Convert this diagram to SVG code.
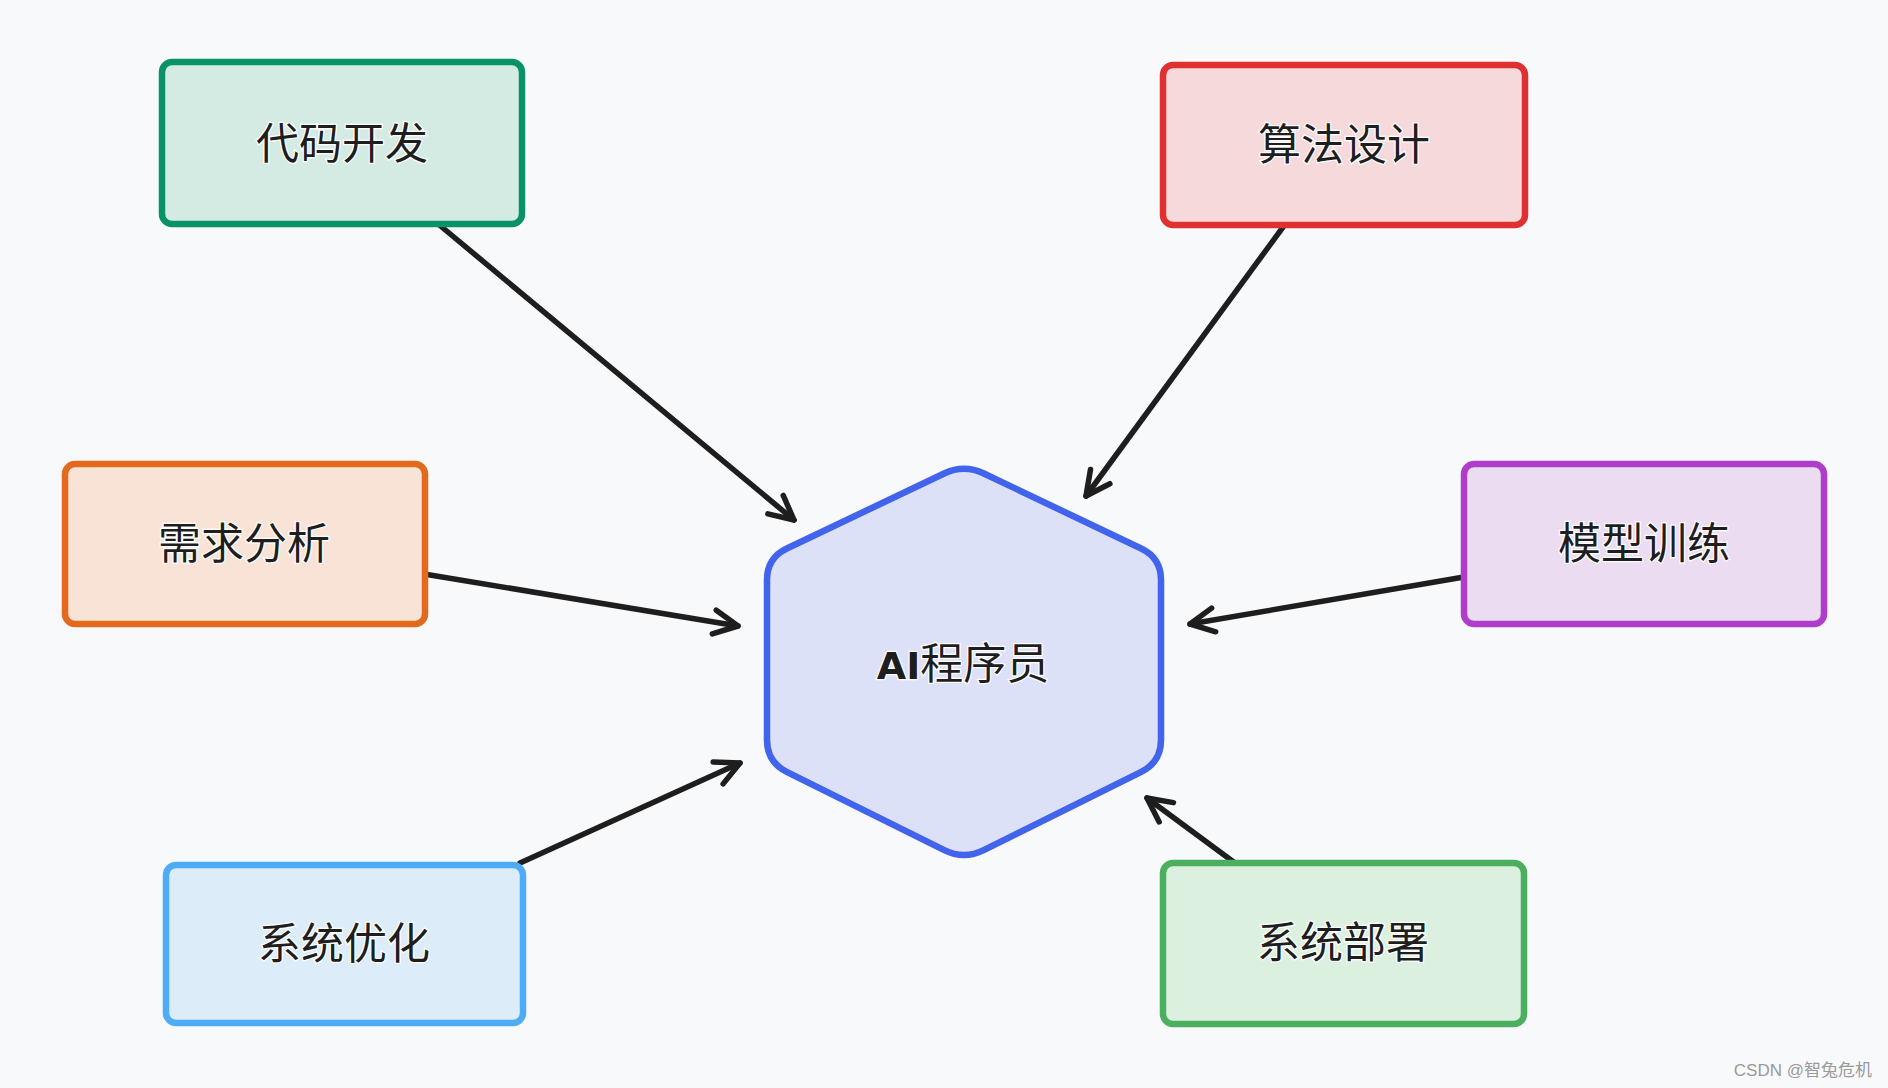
<svg xmlns="http://www.w3.org/2000/svg" width="1888" height="1088" viewBox="0 0 1888 1088">
<style>
.box{stroke-width:6.5;stroke-linejoin:round}
.lbl{font-family:"Noto Sans CJK SC","Noto Sans",sans-serif;font-size:43px;fill:#1e1e1e;text-anchor:middle;stroke:#ffffff;stroke-width:2.5;paint-order:stroke}
.edge{stroke:#1e1e1e;stroke-width:5.5;fill:none;stroke-linecap:round}
</style>
<defs>
<marker id="arr" markerUnits="userSpaceOnUse" markerWidth="40" markerHeight="40" viewBox="-30 -20 40 40" refX="0" refY="0" orient="auto">
<path d="M -24,-12 L 0,0 L -24,12" fill="none" stroke="#1e1e1e" stroke-width="5.5" stroke-linecap="round" stroke-linejoin="round"/>
</marker>
</defs>
<rect width="1888" height="1088" fill="#f8f9fb"/>
<g id="connectors">
<line class="edge" x1="437" y1="223" x2="794" y2="520" marker-end="url(#arr)"/>
<line class="edge" x1="1286" y1="223" x2="1086" y2="496" marker-end="url(#arr)"/>
<line class="edge" x1="424" y1="574" x2="738" y2="626" marker-end="url(#arr)"/>
<line class="edge" x1="1464" y1="577" x2="1190" y2="624" marker-end="url(#arr)"/>
<line class="edge" x1="520" y1="863" x2="740" y2="763" marker-end="url(#arr)"/>
<line class="edge" x1="1235" y1="863" x2="1147" y2="798" marker-end="url(#arr)"/>
</g>
<g id="node-center">
<path class="box" fill="#dde1f7" stroke="#4263eb" d="M 983.85,473.47 L 1141.15,548.53 Q 1161,558 1161,580 L 1161,740 Q 1161,762 1141.3,771.8 L 983.7,850.2 Q 964,860 944.3,850.2 L 786.7,771.8 Q 767,762 767,740 L 767,580 Q 767,558 786.85,548.53 L 944.15,473.47 Q 964,464 983.85,473.47 Z"/>
<text class="lbl" x="963" y="679" font-size="42"><tspan font-family="DejaVu Sans" font-weight="bold" font-size="38">AI</tspan>程序员</text>
</g>
<g id="node-code">
<rect class="box" x="162" y="62" width="360" height="162" rx="10" fill="#d4ebe4" stroke="#099268"/>
<text class="lbl" x="342" y="159">代码开发</text>
</g>
<g id="node-algo">
<rect class="box" x="1163" y="65" width="362" height="160" rx="10" fill="#f6d9db" stroke="#e03131"/>
<text class="lbl" x="1344" y="160">算法设计</text>
</g>
<g id="node-req">
<rect class="box" x="65" y="464" width="360" height="160" rx="10" fill="#f9e3d6" stroke="#e2691d"/>
<text class="lbl" x="244" y="559">需求分析</text>
</g>
<g id="node-train">
<rect class="box" x="1464" y="464" width="360" height="160" rx="10" fill="#ecdcf2" stroke="#ae3ec9"/>
<text class="lbl" x="1644" y="559">模型训练</text>
</g>
<g id="node-opt">
<rect class="box" x="166" y="865" width="357" height="158" rx="10" fill="#ddecf9" stroke="#4dabf7"/>
<text class="lbl" x="344" y="959">系统优化</text>
</g>
<g id="node-deploy">
<rect class="box" x="1163" y="863" width="361" height="161" rx="10" fill="#dcf0e0" stroke="#4caf5f"/>
<text class="lbl" x="1343" y="958">系统部署</text>
</g>
<text x="1872" y="1076" font-family="Liberation Sans, Noto Sans CJK SC, sans-serif" font-size="17" fill="#9a9a9a" text-anchor="end">CSDN @智兔危机</text>
</svg>
